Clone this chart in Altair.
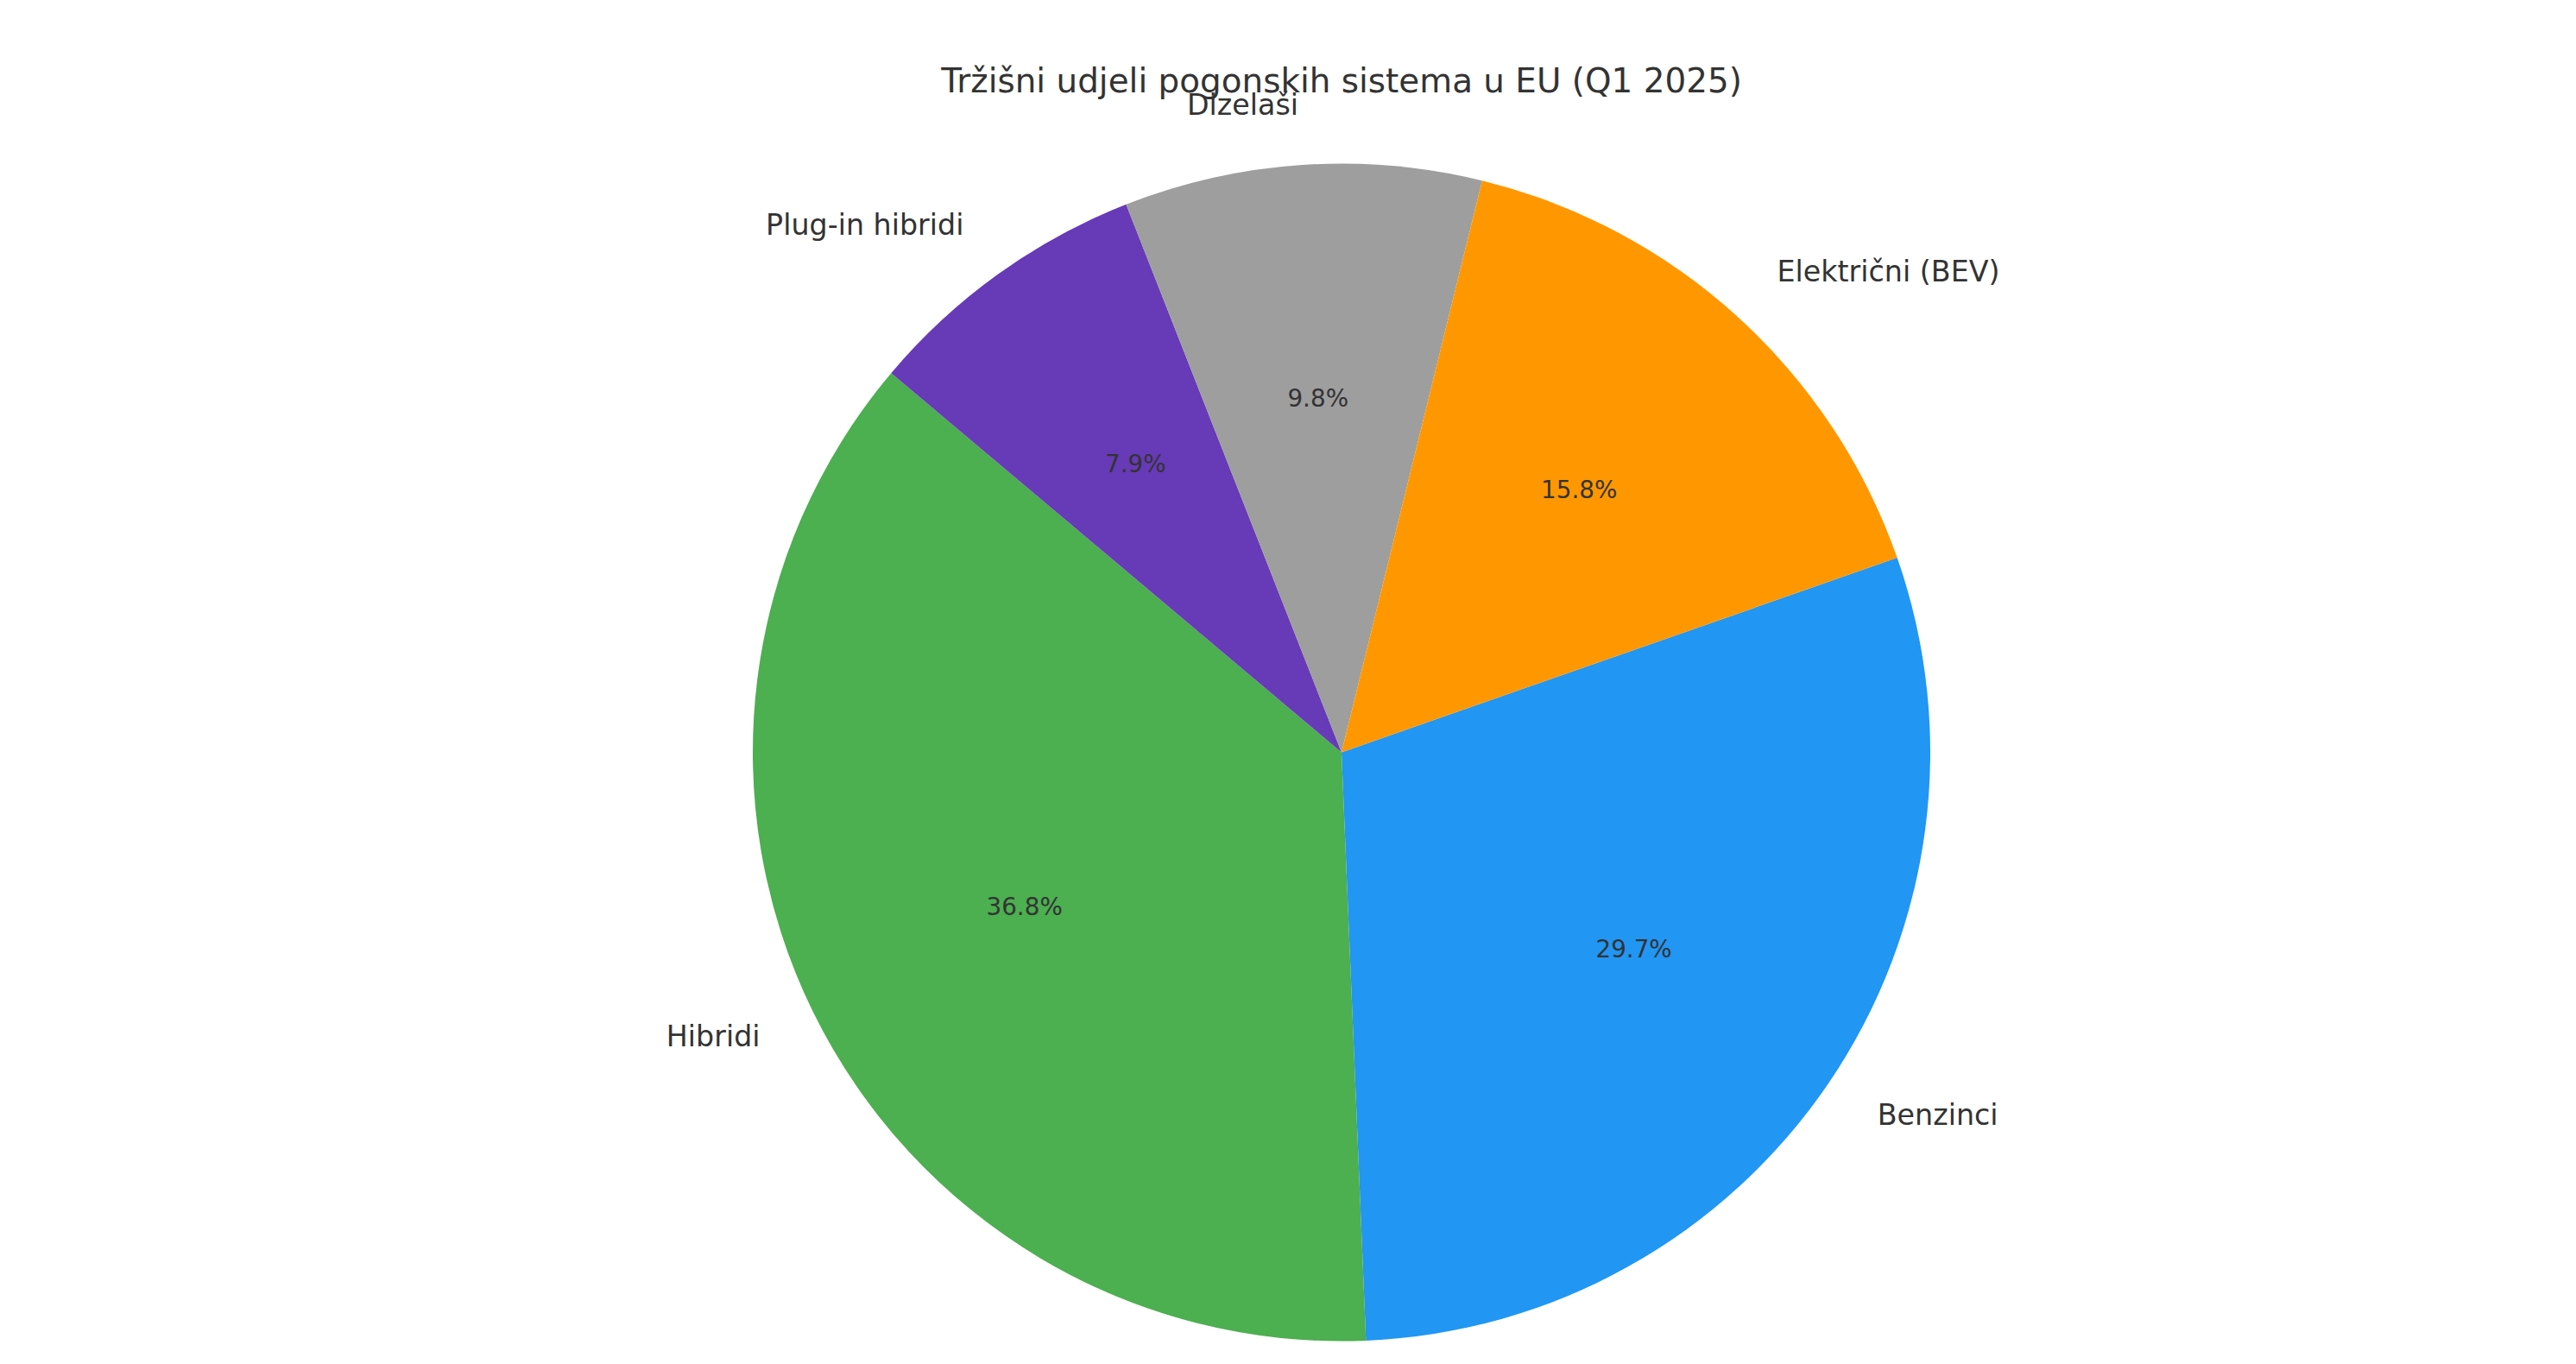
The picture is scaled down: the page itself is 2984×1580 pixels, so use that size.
import math
import altair as alt
import pandas as pd

# ---- data -------------------------------------------------------------
categories = ["Benzinci", "Hibridi", "Plug-in hibridi", "Dizelaši", "Električni (BEV)"]
shares = [29.7, 36.8, 7.9, 9.8, 15.8]
colors = ["#2196F3", "#4CAF50", "#673AB7", "#9E9E9E", "#FF9800"]
TITLE = "Tržišni udjeli pogonskih sistema u EU (Q1 2025)"

# ---- layout -----------------------------------------------------------
W, H = 2968, 1564
CX, CY, R = 1546, 863.5, 682
START = math.radians(70.7)
FONT = "DejaVu Sans"
TXT = "#333333"

df = pd.DataFrame({"idx": list(range(len(categories))), "category": categories, "value": shares})

theta = alt.Theta("value:Q", stack=True,
                  scale=alt.Scale(range=[START, START + 2 * math.pi]))

base = alt.Chart(df).encode(
    theta=theta,
    order=alt.Order("idx:Q"),
    x=alt.value(CX),
    y=alt.value(CY),
)

arcs = base.mark_arc(outerRadius=R, innerRadius=0, stroke=None).encode(
    color=alt.Color("category:N", scale=alt.Scale(domain=categories, range=colors), legend=None)
)

lab_base = base.transform_window(
    cum="sum(value)", sort=[alt.SortField("idx")], frame=[None, 0]
).transform_joinaggregate(
    total="sum(value)"
).transform_calculate(
    ang=f"{START} + 2*PI*(datum.cum - datum.value/2)/datum.total",
).transform_calculate(
    lab_r="sin(datum.ang) >= 0 ? datum.category : ''",
    lab_l="sin(datum.ang) < 0 ? datum.category : ''",
    pct="format(datum.value, '.1f') + '%'",
)

pct = lab_base.mark_text(radius=0.6 * R, fontSize=27.8, font=FONT, color=TXT).encode(
    text="pct:N"
)
lab_r = lab_base.mark_text(radius=1.1 * R, fontSize=33.3, font=FONT, color=TXT, align="left").encode(
    text="lab_r:N"
)
lab_l = lab_base.mark_text(radius=1.1 * R, fontSize=33.3, font=FONT, color=TXT, align="right").encode(
    text="lab_l:N"
)

title = alt.Chart(pd.DataFrame({"t": [TITLE]})).mark_text(
    fontSize=38.9, font=FONT, color=TXT
).encode(text="t:N", x=alt.value(CX), y=alt.value(87))

chart = alt.layer(arcs, pct, lab_l, lab_r, title).properties(
    width=W, height=H, autosize=alt.AutoSizeParams(type="none"), padding=0
).configure_view(stroke=None)

chart.save("out.html", embed_options={"renderer": "svg", "actions": False})
